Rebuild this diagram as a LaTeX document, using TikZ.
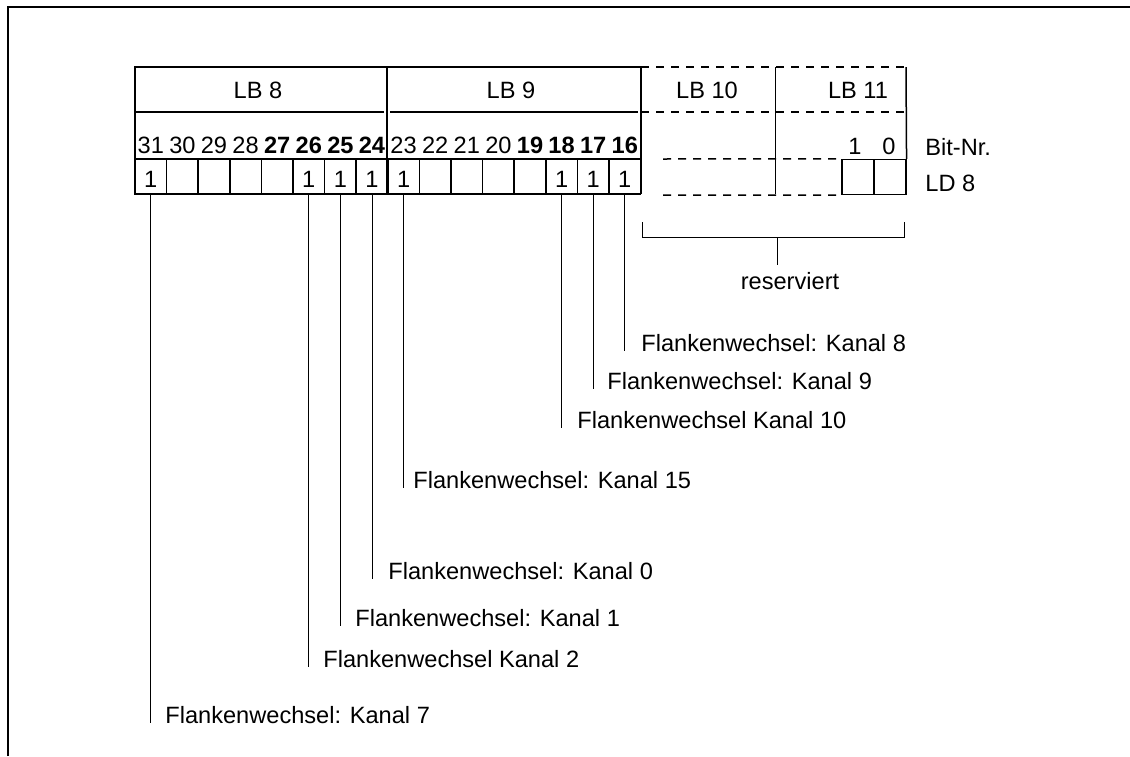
\documentclass[tikz,border=0pt]{standalone}
\usepackage{fontspec}
\setmainfont{Liberation Sans}
\usetikzlibrary{positioning}

\begin{document}
\begin{tikzpicture}[
  x=0.5pt, y=-0.5pt,
  font=\fontsize{11.8}{14}\selectfont,
  tbl/.style={line width=0.75pt},
  thin/.style={line width=0.5pt},
  resline/.style={line width=0.75pt, dash pattern=on 4pt off 3.5pt},
  cell/.style={draw, line width=0.75pt, minimum width=15.8pt, minimum height=17.5pt, inner sep=0pt},
  bitnr/.style={inner sep=0pt},
  bold/.style={inner sep=0pt, font=\fontsize{11.8}{14}\selectfont\bfseries},
  lbl/.style={anchor=base west, inner sep=0pt}
]
\useasboundingbox (0,0) rectangle (1130,756);
\draw[line width=1pt] (8,756) |- (1130,7);

% LB 8 / LB 9
\foreach \i in {31,30,...,16} {
  \pgfmathsetmacro\xc{135+(31.5-\i)*31.6}
  \node[cell] (c\i) at (\xc,176.5) {};
}
\foreach \i in {31,30,29,28,23,22,21,20}
  \node[bitnr] (n\i) at (c\i |- 0,145) {\i};
\foreach \i in {27,26,25,24,19,18,17,16}
  \node[bold] (n\i) at (c\i |- 0,145) {\i};
\foreach \i in {31,26,25,24,23,18,17,16}
  \node[bitnr] (v\i) at (c\i |- 0,179) {1};

\node (lb8) at (258,90) {LB 8};
\node (lb9) at (511,90) {LB 9};
\draw[tbl] (135,194) -- (135,67) -- (641,67) -- (641,194);
\draw[tbl] (387,67) -- (387,194);
\draw[tbl] (135,112) -- (384,112);
\draw[tbl] (390,112) -- (638,112);

% LB 10 / LB 11
\node[cell] (c1) at (858,177) {};
\node[cell] (c0) at (890,177) {};
\node[bitnr] (n1) at (855,146) {1};
\node[bitnr] (n0) at (889,146) {0};
\node (lb10) at (707,90) {LB 10};
\node (lb11) at (858,90) {LB 11};
\draw[resline] (641,67) -- (906,67);
\draw[resline] (641,112) -- (906,112);
\draw[resline] (663,159) -- (c1.north west);
\draw[resline] (663,195) -- (c1.south west);
\draw[thin] (775,67) -- (775,194);
\draw[tbl] (906,67) -- (c0.north east);

\node[anchor=west, inner sep=0pt] (bitlbl) at (925,147) {Bit-Nr.};
\node[anchor=west, inner sep=0pt] (ld8) at (925,183) {LD 8};

% reserviert
\node (resv) at (790,281) {reserviert};
\draw[thin] (642,222) |- (904,237) -- (904,222);
\draw[thin] (777,237) -- (777,237 |- resv.north);

% Flankenwechsel
\node[lbl] (k8) at (641,351) {Flankenwechsel: Kanal 8};
\node[lbl] (k9) at (607,389) {Flankenwechsel: Kanal 9};
\node[lbl] (k10) at (577,428) {Flankenwechsel Kanal 10};
\node[lbl] (k15) at (413,488) {Flankenwechsel: Kanal 15};
\node[lbl] (k0) at (388,579) {Flankenwechsel: Kanal 0};
\node[lbl] (k1) at (355,626) {Flankenwechsel: Kanal 1};
\node[lbl] (k2) at (323,667) {Flankenwechsel Kanal 2};
\node[lbl] (k7) at (165,723) {Flankenwechsel: Kanal 7};
\foreach \i/\k in {16/k8,17/k9,18/k10,23/k15,24/k0,25/k1,26/k2,31/k7}
  \draw[thin] (c\i.south) -- (c\i.south |- \k.base);
\end{tikzpicture}
\end{document}
